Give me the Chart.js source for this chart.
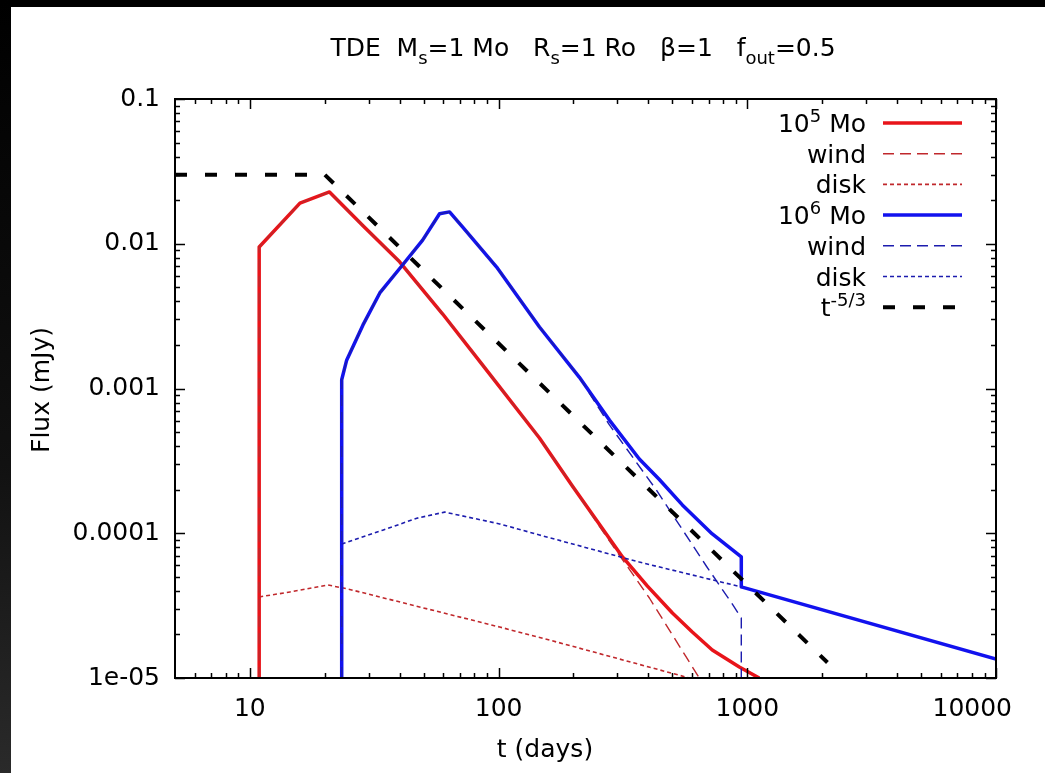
<!DOCTYPE html>
<html>
<head>
<meta charset="utf-8">
<script src="https://cdn.jsdelivr.net/npm/chart.js@4.4.1/dist/chart.umd.min.js"></script>
<style>
  html, body { margin:0; padding:0; background:#000; }
  #wrap { width:1045px; height:773px; }
</style>
</head>
<body>
<div id="wrap"><canvas id="tde"></canvas></div>
<script>
// ---- values (t in days, flux in mJy) ----
const tRedSolid  = [10.9, 10.9, 15.9, 20.9, 28.5, 40, 59.6, 86.3, 146, 198, 315, 396, 500, 601, 723, 929, 1117];
const fRedSolid  = [1e-5, 0.0095, 0.0191, 0.0228, 0.0133, 0.0075, 0.00327, 0.00145, 4.55e-4, 2.12e-4, 6.86e-5, 4.33e-5, 2.81e-5, 2.08e-5, 1.56e-5, 1.19e-5, 1.0e-5];
const tRedWind   = [10.9, 10.9, 15.9, 20.9, 28.5, 40, 59.6, 86.3, 146, 176, 272, 404, 641];
const fRedWind   = [1e-5, 0.0095, 0.0191, 0.0228, 0.0133, 0.0075, 0.00327, 0.00145, 4.55e-4, 2.87e-4, 9.42e-5, 3.57e-5, 1.0e-5];
const tRedDisk   = [10.9, 14.5, 20.6, 24.8, 101, 160, 585];
const fRedDisk   = [3.63e-5, 3.93e-5, 4.39e-5, 4.12e-5, 2.25e-5, 1.83e-5, 1.0e-5];

const tBlueSolid = [23.4, 23.4, 24.5, 28.5, 33.3, 41.1, 49.5, 57.9, 63.5, 71.6, 98.2, 146, 211, 279, 368, 443, 548, 723, 946, 946, 10000];
const fBlueSolid = [1e-5, 0.00115, 0.00157, 0.00275, 0.00457, 0.00713, 0.0106, 0.0161, 0.0166, 0.0131, 0.0069, 0.00266, 0.0012, 6.05e-4, 3.26e-4, 2.35e-4, 1.57e-4, 9.89e-5, 6.86e-5, 4.26e-5, 1.35e-5];
const tBlueWind  = [23.4, 23.4, 24.5, 28.5, 33.3, 41.1, 49.5, 57.9, 63.5, 71.6, 98.2, 146, 211, 279, 431, 684, 871, 946, 946];
const fBlueWind  = [1e-5, 0.00115, 0.00157, 0.00275, 0.00457, 0.00713, 0.0106, 0.0161, 0.0166, 0.0131, 0.0069, 0.00266, 0.0012, 5.6e-4, 1.99e-4, 5.94e-5, 3.24e-5, 2.6e-5, 1e-5];
const tBlueDisk  = [23.4, 34.2, 46.9, 60.7, 101, 146, 368, 946];
const fBlueDisk  = [8.43e-5, 1.05e-4, 1.27e-4, 1.40e-4, 1.16e-4, 9.73e-5, 6.32e-5, 4.26e-5];

const tFall = [5, 20, 2100];
const fFall = [0.03, 0.03, 1.28e-5];

const xTickVals = [10, 100, 1000, 10000];
const xTickText = ['10', '100', '1000', '10000'];
const yTickVals = [1e-5, 1e-4, 1e-3, 1e-2, 1e-1];
const yTickText = ['1e-05', '0.0001', '0.001', '0.01', '0.1'];
const minorMult = [2, 3, 4, 5, 6, 7, 8, 9];

const titleText = 'TDE  M_{s}=1 Mo   R_{s}=1 Ro   \u03b2=1   f_{out}=0.5';
const FONT = "'DejaVu Sans', sans-serif";

function pts(ts, fs){ return ts.map((t,i)=>({x:t, y:fs[i]})); }

// "a_{b}c^{d}" -> runs of normal / sub / sup text
function runs(s){
  const out = [];
  const re = /([_^])\{([^}]*)\}/g;
  let last = 0, m;
  while((m = re.exec(s))){
    if(m.index > last) out.push({t:s.slice(last, m.index), k:0});
    out.push({t:m[2], k: m[1]==='^' ? 1 : -1});
    last = re.lastIndex;
  }
  if(last < s.length) out.push({t:s.slice(last), k:0});
  return out;
}

function richText(ctx, s, x, y, size, align){
  const parts = runs(s);
  const small = Math.round(size*0.72);
  let w = 0;
  parts.forEach(p=>{
    ctx.font = (p.k ? small : size)+'px '+FONT;
    p.w = ctx.measureText(p.t).width;
    w += p.w;
  });
  let cx = align==='right' ? x-w : align==='center' ? x-w/2 : x;
  ctx.textAlign = 'left';
  ctx.textBaseline = 'alphabetic';
  parts.forEach(p=>{
    ctx.font = (p.k ? small : size)+'px '+FONT;
    const dy = p.k===1 ? -size*0.42 : p.k===-1 ? size*0.3 : 0;
    ctx.fillText(p.t, cx, y+dy);
    cx += p.w;
  });
  return w;
}

// black frame round a white sheet
const paper = {
  id: 'paper',
  beforeDraw(chart){
    const c = chart.ctx;
    c.save();
    c.fillStyle = '#000';
    c.fillRect(0, 0, chart.width, chart.height);
    const g = c.createLinearGradient(0, 0, 0, chart.height);
    g.addColorStop(0, '#000');
    g.addColorStop(0.6, '#111');
    g.addColorStop(1, '#2a2a2a');
    c.fillStyle = g;
    c.fillRect(0, 0, 11, chart.height);
    c.fillStyle = '#fff';
    c.fillRect(11, 7, chart.width-11, chart.height-7);
    c.restore();
  }
};

// gnuplot style border, inward ticks, titles and key
const gnu = {
  id: 'gnu',
  afterDatasetsDraw(chart){
    const c = chart.ctx, a = chart.chartArea;
    const xs = chart.scales.x, ys = chart.scales.y;
    c.save();
    c.strokeStyle = '#000';
    c.lineWidth = 2;
    c.setLineDash([]);
    c.strokeRect(a.left, a.top, a.right-a.left, a.bottom-a.top);

    c.lineWidth = 1.5;
    c.beginPath();
    const xTick = (v, len)=>{
      const p = Math.round(xs.getPixelForValue(v)) + 0.5;
      c.moveTo(p, a.bottom); c.lineTo(p, a.bottom-len);
      c.moveTo(p, a.top);    c.lineTo(p, a.top+len);
    };
    const yTick = (v, len)=>{
      const p = Math.round(ys.getPixelForValue(v)) + 0.5;
      c.moveTo(a.left, p);  c.lineTo(a.left+len, p);
      c.moveTo(a.right, p); c.lineTo(a.right-len, p);
    };
    [1, 10, 100, 1000].forEach(d=>minorMult.forEach(m=>{
      const v = m*d;
      if(v > xs.min && v < xs.max) xTick(v, 5);
    }));
    xTickVals.forEach(v=>xTick(v, 10));
    [1e-5, 1e-4, 1e-3, 1e-2].forEach(d=>minorMult.forEach(m=>{
      const v = m*d;
      if(v > ys.min && v < ys.max) yTick(v, 5);
    }));
    yTickVals.forEach(v=>yTick(v, 10));
    c.stroke();

    c.fillStyle = '#000';
    // x tick labels, kept inside the sheet
    c.font = '25px '+FONT;
    xTickVals.forEach((v, i)=>{
      const w = c.measureText(xTickText[i]).width;
      const px = Math.min(xs.getPixelForValue(v), 1012 - w/2);
      richText(c, xTickText[i], px, 716, 25, 'center');
    });

    richText(c, titleText, 583, 56, 25, 'center');
    richText(c, 't (days)', 545, 757, 25, 'center');
    c.save();
    c.translate(49, 390);
    c.rotate(-Math.PI/2);
    richText(c, 'Flux (mJy)', 0, 0, 25, 'center');
    c.restore();

    // key
    chart.data.datasets.forEach((ds, i)=>{
      const yy = 123 + i*30.7;
      c.fillStyle = '#000';
      richText(c, ds.label, 866, yy+9, 25, 'right');
      c.strokeStyle = ds.borderColor;
      c.lineWidth = ds.borderWidth;
      c.setLineDash(ds.borderDash || []);
      c.beginPath();
      c.moveTo(883, yy); c.lineTo(962, yy);
      c.stroke();
    });
    c.restore();
  }
};

function line(label, ts, fs, color, width, dash, order){
  return {
    label, data: pts(ts, fs),
    borderColor: color, borderWidth: width, borderDash: dash,
    borderCapStyle: 'butt', borderJoinStyle: 'round',
    pointRadius: 0, tension: 0, fill: false, order
  };
}

const RED = '#e8141a', RED_THIN = '#c0282c', BLUE = '#1212ee', BLUE_THIN = '#1c1cae';

new Chart(document.getElementById('tde'), {
  type: 'line',
  data: {
    datasets: [
      line('10^{5} Mo', tRedSolid, fRedSolid, RED, 3.5, [], 6),
      line('wind', tRedWind, fRedWind, RED_THIN, 1.4, [11, 6], 5),
      line('disk', tRedDisk, fRedDisk, RED_THIN, 1.6, [4, 3], 4),
      line('10^{6} Mo', tBlueSolid, fBlueSolid, BLUE, 3.5, [], 3),
      line('wind', tBlueWind, fBlueWind, BLUE_THIN, 1.4, [11, 6], 2),
      line('disk', tBlueDisk, fBlueDisk, BLUE_THIN, 1.6, [4, 3], 1),
      line('t^{-5/3}', tFall, fFall, '#000', 4, [12, 18], 0)
    ]
  },
  options: {
    responsive: true,
    maintainAspectRatio: false,
    animation: false,
    layout: { padding: { left: 11, top: 99, right: 49, bottom: 0 } },
    plugins: { legend: { display: false }, tooltip: { enabled: false } },
    scales: {
      x: {
        type: 'logarithmic', min: 5, max: 10000,
        afterBuildTicks: s => { s.ticks = xTickVals.map(v=>({value:v})); },
        afterFit: s => { s.height = 95; },
        grid: { display: false, drawTicks: false },
        border: { display: false },
        ticks: { display: false }
      },
      y: {
        type: 'logarithmic', min: 1e-5, max: 0.1,
        afterBuildTicks: s => { s.ticks = yTickVals.map(v=>({value:v})); },
        afterFit: s => { s.width = 164; },
        grid: { display: false, drawTicks: false },
        border: { display: false },
        ticks: {
          autoSkip: false, padding: 15, color: '#000',
          font: { family: FONT, size: 25 },
          callback: v => yTickText[yTickVals.indexOf(v)]
        }
      }
    }
  },
  plugins: [paper, gnu]
});
</script>
</body>
</html>
